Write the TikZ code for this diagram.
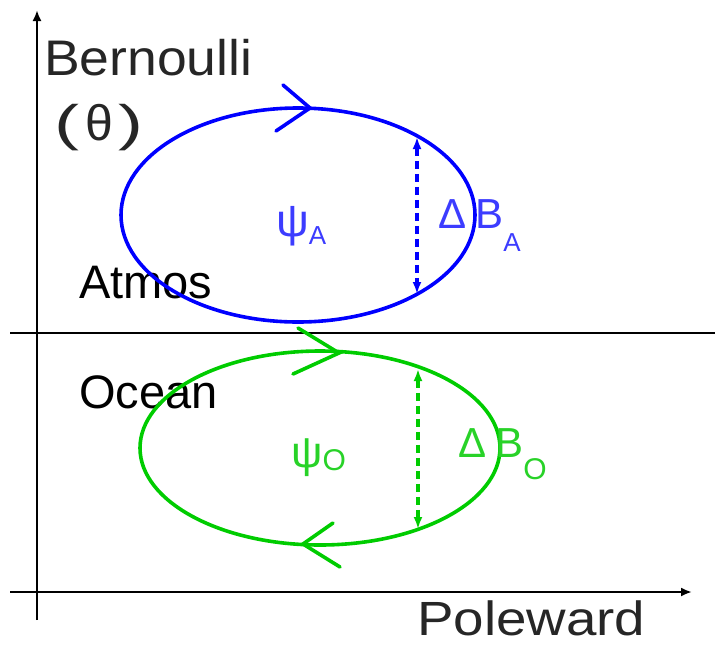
\documentclass[tikz,border=0pt]{standalone}
\usepackage{fontspec}
\setmainfont{Liberation Sans}
\usetikzlibrary{arrows.meta}
\definecolor{atmblue}{RGB}{0,0,255}
\definecolor{ocngreen}{RGB}{0,204,0}
\definecolor{atmlab}{RGB}{60,60,255}
\definecolor{ocnlab}{RGB}{40,210,40}
\tikzset{
  axis/.style={line width=2.4pt, -{Latex[length=11pt,width=9pt]}},
  loopA/.style={atmblue, line width=3.6pt},
  loopO/.style={ocngreen, line width=3.6pt},
  chevA/.style={atmblue, line width=3.6pt, line cap=round},
  chevO/.style={ocngreen, line width=3.6pt, line cap=round},
  dashA/.style={atmblue, line width=3.2pt, dash pattern=on 8pt off 5pt, {Latex[length=12pt,width=9pt]}-{Latex[length=12pt,width=9pt]}},
  dashO/.style={ocngreen, line width=3.2pt, dash pattern=on 8pt off 5pt, {Latex[length=12pt,width=9pt]}-{Latex[length=12pt,width=9pt]}},
  lbl/.style={inner sep=0pt, anchor=base west},
}
\begin{document}
\begin{tikzpicture}[x=1pt,y=-1pt]
\useasboundingbox (0,0) rectangle (715,646);
% axes
\coordinate (vb) at (37,620);
\coordinate (vt) at (37,10);
\coordinate (hl) at (10,592);
\coordinate (hr) at (692,592);
\draw[axis] (vb) -- (vt);
\draw[axis] (hl) -- (hr);
\coordinate (sl) at (10,333);
\coordinate (sr) at (715,333);
\draw[line width=1.8pt] (sl) -- (sr);
% axis labels
\node[lbl, font=\fontsize{50}{50}\selectfont, text=black!85, xscale=1.07] (bern) at (44,75) {Bernoulli};
\node[lbl, font=\fontsize{50}{50}\selectfont, text=black!85] (theta) at (54,140) {\scalebox{1.5}[1]{(}\kern6ptθ\kern6pt\scalebox{1.5}[1]{)}};
\node[lbl, font=\fontsize{48}{48}\selectfont, text=black!85, xscale=1.14] (pole) at (417,635) {Poleward};
\node[lbl, font=\fontsize{47}{47}\selectfont] (atmos) at (79,298) {Atmos};
\node[lbl, font=\fontsize{47}{47}\selectfont] (ocean) at (79,408) {Ocean};
% atmosphere loop
\coordinate (cA) at (298,215);
\draw[loopA] (cA) ellipse [x radius=177, y radius=107];
\coordinate (chA) at (310,108);
\coordinate (chA1) at (283,85);
\coordinate (chA2) at (276,131);
\draw[chevA] (chA1) -- (chA) -- (chA2);
\coordinate (dA1) at (417,137);
\coordinate (dA2) at (417,294);
\draw[dashA] (dA1) -- (dA2);
\node[lbl, text=atmlab, font=\fontsize{46}{46}\selectfont] (psiA) at (276,236) {ψ\raisebox{-8pt}{\fontsize{26}{26}\selectfont A}};
\node[lbl, text=atmlab, font=\fontsize{42}{42}\selectfont] (dBA) at (438,228) {Δ\kern9ptB\raisebox{-23pt}{\fontsize{26}{26}\selectfont A}};
% ocean loop
\coordinate (cO) at (320,448);
\draw[loopO] (cO) ellipse [x radius=180, y radius=97];
\coordinate (chO) at (339,353);
\coordinate (chO1) at (298,328);
\coordinate (chO2) at (293,374);
\draw[chevO] (chO1) -- (chO) -- (chO2);
\coordinate (chB) at (303,544);
\coordinate (chB1) at (333,523);
\coordinate (chB2) at (340,567);
\draw[chevO] (chB1) -- (chB) -- (chB2);
\coordinate (dO1) at (418,369);
\coordinate (dO2) at (418,529);
\draw[dashO] (dO1) -- (dO2);
\node[lbl, text=ocnlab, font=\fontsize{44}{44}\selectfont] (psiO) at (291,467) {ψ\raisebox{-3pt}{\fontsize{30}{30}\selectfont O}};
\node[lbl, text=ocnlab, font=\fontsize{42}{42}\selectfont] (dBO) at (458,457) {Δ\kern9ptB\raisebox{-22pt}{\fontsize{30}{30}\selectfont O}};
\end{tikzpicture}
\end{document}
